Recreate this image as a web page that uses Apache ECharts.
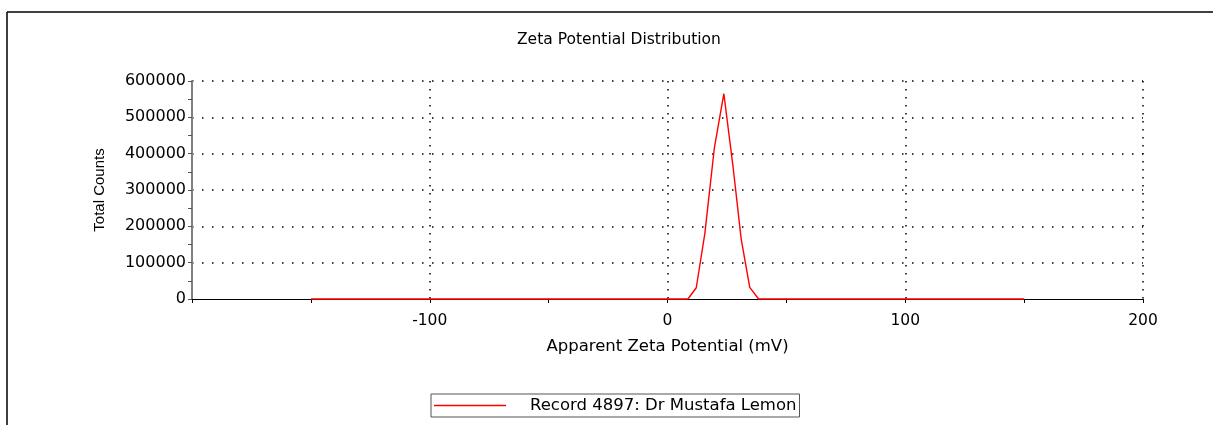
<!DOCTYPE html>
<html>
<head>
    <meta charset="utf-8">
    <title>Zeta Potential Distribution</title>
    <script src="https://cdn.jsdelivr.net/npm/echarts@6/dist/echarts.min.js"></script>
    <style>
        html, body { margin: 0; padding: 0; background: #fff; }
        #main { width: 1213px; height: 425px; }
    </style>
</head>
<body>
    <div id="main"></div>
    <script type="text/javascript">
        // values
        var zeta = [-150, 8.6, 12.1, 15.7, 19.7, 23.7, 27.5, 31.0, 34.6, 38.3, 150];
        var counts = [0, 0, 31000, 180000, 415000, 565000, 368000, 165000, 32000, 0, 0];
        var recordName = 'Record 4897: Dr Mustafa Lemon';

        var points = [];
        for (var i = 0; i < zeta.length; i++) {
            points.push([zeta[i], counts[i]]);
        }

        var font = 'DejaVu Sans';
        var red = '#ff0000';

        var myChart = echarts.init(document.getElementById('main'));
        var option = {
            animation: false,
            backgroundColor: '#fff',
            color: [red],
            title: {
                text: 'Zeta Potential Distribution',
                left: 512,
                top: 27,
                textStyle: { fontFamily: font, fontSize: 15.5, fontWeight: 'normal', color: '#000' }
            },
            legend: {
                data: [{ name: recordName, icon: 'rect', itemStyle: { color: red } }],
                left: 431,
                top: 394,
                padding: [3, 3, 3, 3],
                borderColor: '#555',
                borderWidth: 1,
                itemWidth: 72,
                itemHeight: 1.5,
                textStyle: { fontFamily: font, fontSize: 16.5, color: '#000', padding: [0, 0, 0, 19] }
            },
            grid: { left: 192, right: 70, top: 81, bottom: 126, containLabel: false },
            xAxis: {
                type: 'value',
                min: -200,
                max: 200,
                interval: 100,
                name: 'Apparent Zeta Potential (mV)',
                nameLocation: 'middle',
                nameGap: 39,
                nameTextStyle: { fontFamily: font, fontSize: 16.5, color: '#000' },
                axisLine: { onZero: false, lineStyle: { color: '#000', width: 1 } },
                axisTick: { show: true, length: 4, lineStyle: { color: '#000' } },
                minorTick: { show: true, splitNumber: 2, length: 4, lineStyle: { color: '#000' } },
                axisLabel: {
                    margin: 14,
                    fontFamily: font,
                    fontSize: 15.5,
                    color: '#000',
                    formatter: function (v) { return v === -200 ? '' : String(v); }
                },
                splitLine: { show: true, showMinLine: false, lineStyle: { color: '#000', width: 1.5, type: [1.5, 6.5] } }
            },
            yAxis: {
                type: 'value',
                min: 0,
                max: 600000,
                interval: 100000,
                name: 'Total Counts',
                nameLocation: 'middle',
                nameGap: 85,
                nameTextStyle: { fontFamily: 'Liberation Sans', fontSize: 15, color: '#000' },
                axisLine: { show: true, onZero: false, lineStyle: { color: '#808080', width: 2 } },
                axisTick: { show: true, length: 4, lineStyle: { color: '#555' } },
                minorTick: { show: true, splitNumber: 2, length: 4, lineStyle: { color: '#555' } },
                axisLabel: {
                    margin: 6,
                    fontFamily: font,
                    fontSize: 16,
                    color: '#000',
                    formatter: function (v) { return String(v); }
                },
                splitLine: { show: true, showMinLine: false, lineStyle: { color: '#000', width: 1.5, type: [1.5, 8.5] } }
            },
            graphic: [
                { type: 'line', shape: { x1: 7, y1: 12, x2: 1213, y2: 12 }, style: { stroke: '#000', lineWidth: 1.5 } },
                { type: 'line', shape: { x1: 7, y1: 12, x2: 7, y2: 425 }, style: { stroke: '#000', lineWidth: 1.5 } }
            ],
            series: [{
                name: recordName,
                type: 'line',
                data: points,
                showSymbol: false,
                symbol: 'none',
                clip: false,
                lineStyle: { color: red, width: 1.4 }
            }]
        };
        myChart.setOption(option);
    </script>
</body>
</html>
